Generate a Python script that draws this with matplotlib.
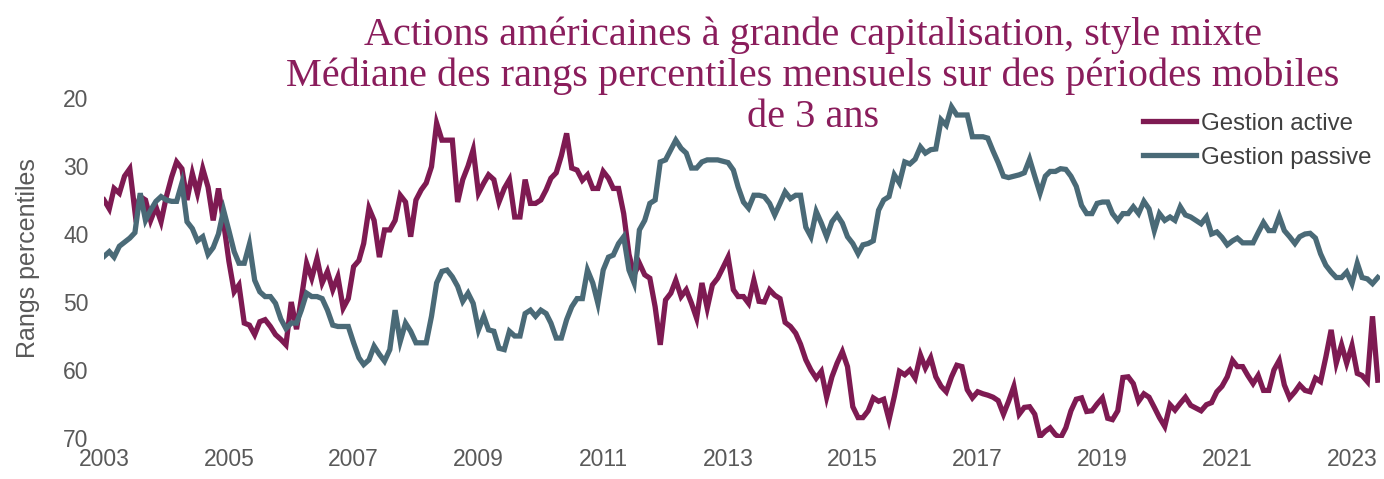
import numpy as np
import pandas as pd
import matplotlib
matplotlib.use("Agg")
import matplotlib.pyplot as plt
import matplotlib.dates as mdates

# médiane des rangs percentiles, valeurs mensuelles à partir de janvier 2003
active = [
    35, 36.3, 33.3, 34, 31.5, 30.4, 36.7, 34.5, 35, 38, 36, 38.2,            # 2003
    34.5, 31.6, 29.4, 30.4, 35, 31.1, 34, 30.4, 33.1, 38, 33.3, 38.3,        # 2004
    44, 48.5, 47.5, 53.1, 53.4, 54.8, 52.9, 52.6, 53.6, 54.8, 55.5, 56.3,    # 2005
    50, 54, 49.5, 44.3, 46.5, 43.6, 47.2, 45.5, 48.2, 46.3, 50.9, 49.5,      # 2006
    44.8, 43.9, 41.4, 36.2, 38, 43.4, 39.4, 39.4, 38, 34.3, 35.3, 40.4,      # 2007
    35, 33.5, 32.5, 30.1, 23.7, 26.2, 26.2, 26.2, 35.3, 32, 30, 27.6,        # 2008
    34, 32.5, 31.3, 32, 35.3, 33.3, 32, 37.5, 37.5, 32, 35.5, 35.5,          # 2009
    35, 33.5, 31.8, 31, 28.5, 25.2, 30.3, 30.6, 32.1, 31.3, 33.3, 33.3,      # 2010
    30.8, 31.8, 33.3, 33.3, 37, 43, 46, 44.3, 46, 46.5, 50.7, 56.3,          # 2011
    49.7, 48.7, 46.8, 49.2, 48.2, 50.2, 52.4, 47.2, 50.9, 47.5, 46.5, 45,    # 2012
    43.4, 48.2, 49.2, 49.2, 50.2, 46.8, 49.9, 50, 48.2, 49, 49.5, 53,        # 2013
    53.6, 54.6, 56.2, 58.5, 60, 61.2, 60.2, 64, 61, 59, 57.3, 59.5,          # 2014
    65.4, 67, 67, 66, 64.1, 64.6, 64.3, 67.3, 63.9, 60.2, 60.7, 60,          # 2015
    61.2, 57.8, 59.7, 58.2, 61, 62.4, 63.2, 61, 59.3, 59.5, 62.9, 64.1,      # 2016
    63.2, 63.5, 63.7, 64, 64.5, 66.5, 64.6, 62.4, 66.5, 65.5, 65.4, 66.5,    # 2017
    69.8, 69, 68.5, 69.5, 70, 68.5, 66, 64.3, 64.1, 66.1, 66, 65,            # 2018
    64.1, 67.1, 67.3, 66, 61.1, 61, 62, 64.6, 63.5, 64, 65.5, 67,            # 2019
    68.3, 65.1, 65.9, 64.9, 64, 65.2, 65.6, 66, 65.1, 64.8, 63.2, 62.4,      # 2020
    61, 58.6, 59.5, 59.5, 60.8, 62, 60.8, 63, 63, 60, 58.6, 62.2,            # 2021
    64.1, 63.2, 62.2, 63, 63.2, 61.2, 61.7, 58.1, 54.1, 59, 56.3, 59,        # 2022
    56.4, 60.5, 60.8, 61.7, 52.1, 61.5,                                      # 2023
]
passive = [
    43.3, 42.6, 43.4, 41.8, 41.2, 40.6, 39.8, 34, 38, 36.5, 35.2, 34.5,      # 2003
    35, 35.2, 35.2, 32.5, 38.2, 39.2, 41, 40.4, 43, 42, 40, 36.5,            # 2004
    39.5, 42.6, 44.3, 44.3, 41.5, 46.8, 48.5, 49.2, 49.2, 50.2, 52.5, 53.9,  # 2005
    53.1, 53.1, 51.2, 48.7, 49.2, 49.2, 49.5, 51.2, 53.4, 53.6, 53.6, 53.6,  # 2006
    56, 58.2, 59.2, 58.5, 56.5, 57.7, 58.7, 57, 51.2, 55.8, 53.1, 54.3,      # 2007
    56, 56, 56, 52.1, 47.2, 45.5, 45.3, 46.3, 47.7, 49.9, 48.7, 50.2,        # 2008
    54.1, 52.1, 54.1, 54.3, 56.8, 57, 54.3, 55, 55, 51.7, 51.2, 52.1,        # 2009
    51.2, 51.7, 53.1, 55.3, 55.3, 52.6, 50.7, 49.5, 49.5, 45.3, 47.2, 50.2,  # 2010
    45.3, 43.4, 43.1, 41.4, 40.4, 45.3, 47.2, 39.4, 38, 35.5, 35, 29.4,      # 2011
    29.1, 27.6, 26.2, 27.4, 28.1, 30.3, 30.3, 29.4, 29.1, 29.1, 29.1, 29.3,  # 2012
    29.5, 30.6, 33.1, 35.3, 36.2, 34.3, 34.3, 34.5, 35.5, 37.2, 35.5, 33.8,  # 2013
    34.8, 34.3, 34.3, 39, 40.4, 36.7, 38.4, 40.4, 38.2, 37.2, 38.4, 40.4,    # 2014
    41.4, 42.9, 41.6, 41.4, 41, 36.5, 35, 34.5, 31.3, 32.5, 29.4, 29.7,      # 2015
    29, 27.2, 28.1, 27.6, 27.5, 23.2, 24, 21.3, 22.5, 22.5, 22.5, 25.7,      # 2016
    25.7, 25.7, 25.9, 27.8, 29.5, 31.5, 31.7, 31.5, 31.3, 31, 29, 31.5,      # 2017
    34, 31.5, 30.8, 30.8, 30.4, 30.5, 31.5, 33, 35.8, 37, 37, 35.5,          # 2018
    35.3, 35.3, 37, 38, 37, 37, 36, 37, 35.2, 36.3, 39.5, 37,                # 2019
    38, 37.5, 38, 36, 37.2, 37.5, 38, 38.5, 37.5, 40, 39.7, 40.5,            # 2020
    41.6, 41, 40.6, 41.3, 41.3, 41.3, 39.8, 38.3, 39.5, 39.5, 37.4, 39.5,    # 2021
    40.4, 41.4, 40.4, 40, 39.9, 40.6, 42.9, 44.6, 45.6, 46.4, 46.4, 45.6,    # 2022
    47.3, 44.3, 46.4, 46.6, 47.3, 46.4,                                      # 2023
]
labels = ["Gestion active", "Gestion passive"]
title_lines = [
    "Actions américaines à grande capitalisation, style mixte",
    "Médiane des rangs percentiles mensuels sur des périodes mobiles",
    "de 3 ans",
]
yticks = [20, 30, 40, 50, 60, 70]
xtick_years = list(range(2003, 2024, 2))

col_active = "#7e1a52"
col_passive = "#4a6a77"
col_title = "#8a1d5c"
col_text = "#595959"

dates = pd.date_range("2003-01-01", periods=len(active), freq="MS")

plt.rcParams["font.family"] = ["Liberation Sans", "DejaVu Sans"]

fig = plt.figure(figsize=(13.84, 4.79), dpi=100)
ax = fig.add_axes([104 / 1384, 1 - 438 / 479, (1380 - 104) / 1384, 340 / 479])

ax.plot(dates, active, color=col_active, lw=3.8, label=labels[0], solid_joinstyle="miter")
ax.plot(dates, passive, color=col_passive, lw=3.8, label=labels[1], solid_joinstyle="miter")

ax.set_ylim(70, 20)
ax.set_yticks(yticks)
ax.set_xlim(pd.Timestamp("2003-01-01"), pd.Timestamp("2023-06-14"))
ax.set_xticks([pd.Timestamp(f"{y}-01-01") for y in xtick_years])
ax.xaxis.set_major_formatter(mdates.DateFormatter("%Y"))
ax.tick_params(axis="both", length=0, labelsize=16.5, colors=col_text)
ax.tick_params(axis="y", pad=11)
ax.tick_params(axis="x", pad=7)
for s in ax.spines.values():
    s.set_visible(False)

ax.set_ylabel("Rangs percentiles", fontsize=18, color=col_text)
ax.yaxis.set_label_coords(-0.05, 0.53)

leg = ax.legend(loc="upper right", bbox_to_anchor=(1.01, 1.02), frameon=False,
                fontsize=17.3, handlelength=2.2, handletextpad=0.2, labelspacing=0.5)
for t in leg.get_texts():
    t.set_color("#404040")

for line, base in zip(title_lines, [45, 86, 127]):
    fig.text(813 / 1384, 1 - base / 479, line, ha="center", va="baseline",
             fontsize=29, color=col_title, family="Liberation Serif")

fig.savefig("out.png", dpi=100)
